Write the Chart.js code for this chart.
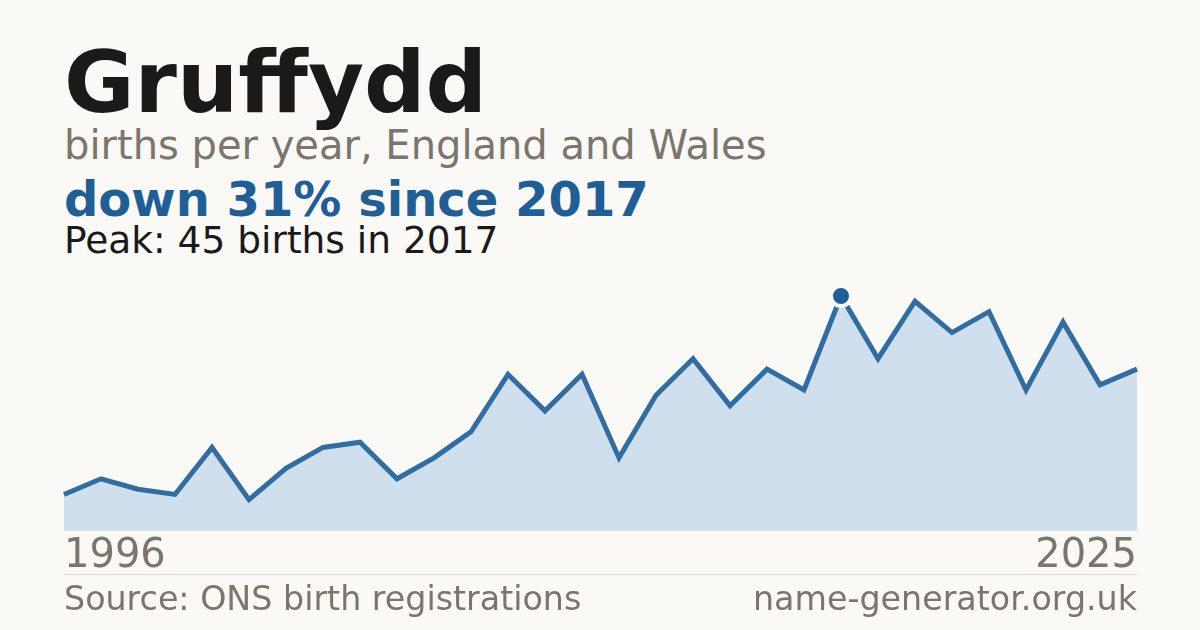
<!DOCTYPE html>
<html>
<head>
<meta charset="utf-8">
<script src="https://cdn.jsdelivr.net/npm/chart.js@4"></script>
<style>
  html, body { margin:0; padding:0; background:#faf9f5; }
  #wrap { position:relative; width:1200px; height:630px; background:#faf9f5; overflow:hidden; font-family:"DejaVu Sans", sans-serif; }
  .t { position:absolute; left:64px; white-space:nowrap; line-height:1; }
  #title { top:39px; font-size:86px; font-weight:bold; color:#1a1a1a; }
  #sub { top:125px; font-size:40px; color:#7a756d; }
  #hl { top:175px; font-size:48px; font-weight:bold; color:#1f5f96; }
  #peak { top:222px; font-size:37.5px; color:#1a1a1a; }
  #rule { position:absolute; left:64px; top:574px; width:1073px; height:1px; background:#dcd9d2; }
  #src { top:582px; font-size:33.3px; color:#7a756d; }
  #site { top:582px; left:auto; right:63px; font-size:33.3px; color:#7a756d; }
  #cv { position:absolute; left:0; top:0; width:1200px; height:630px; }
</style>
</head>
<body>
<div id="wrap">
  <div class="t" id="title">Gruffydd</div>
  <div class="t" id="sub">births per year, England and Wales</div>
  <div class="t" id="hl">down 31% since 2017</div>
  <div class="t" id="peak">Peak: 45 births in 2017</div>
  <div id="cv"><canvas id="chart" width="1200" height="630"></canvas></div>
  <div id="rule"></div>
  <div class="t" id="src">Source: ONS birth registrations</div>
  <div class="t" id="site">name-generator.org.uk</div>
</div>
<script>
const years = [1996,1997,1998,1999,2000,2001,2002,2003,2004,2005,2006,2007,2008,2009,2010,2011,2012,2013,2014,2015,2016,2017,2018,2019,2020,2021,2022,2023,2024,2025];
const births = [7,10,8,7,16,6,12,16,17,10,14,19,30,23,30,14,26,33,24,31,27,45,33,44,38,42,27,40,28,31];
const tickLabels = ["1996","2025"];

const peakValue = Math.max(...births);
const peakIndex = births.indexOf(peakValue);
const BG = '#faf9f5';

const radii = births.map((v,i) => i === peakIndex ? 10 : 0);
const bws = births.map((v,i) => i === peakIndex ? 4 : 0);

new Chart(document.getElementById('chart'), {
  type: 'line',
  data: {
    labels: years.map(String),
    datasets: [{
      data: births,
      borderColor: '#326da2',
      borderWidth: 5,
      borderJoinStyle: 'miter',
      backgroundColor: '#cfdfee',
      fill: 'origin',
      tension: 0,
      clip: false,
      pointRadius: radii,
      pointHoverRadius: radii,
      pointBackgroundColor: '#1f5f96',
      pointBorderColor: BG,
      pointBorderWidth: bws
    }]
  },
  options: {
    responsive: false,
    animation: false,
    devicePixelRatio: 1,
    layout: { padding: { left: 64, right: 63, top: 296, bottom: 47 } },
    plugins: { legend: { display: false }, tooltip: { enabled: false } },
    scales: {
      x: {
        offset: false,
        grid: { display: false, drawTicks: false },
        border: { display: false },
        ticks: {
          autoSkip: false,
          maxRotation: 0,
          align: 'inner',
          padding: 2,
          color: '#7a756d',
          font: { family: 'DejaVu Sans', size: 40 },
          callback: function(val, idx) {
            if (idx === 0) return tickLabels[0];
            if (idx === years.length - 1) return tickLabels[1];
            return '';
          }
        }
      },
      y: {
        display: false,
        min: 0,
        max: peakValue
      }
    }
  }
});
</script>
</body>
</html>
